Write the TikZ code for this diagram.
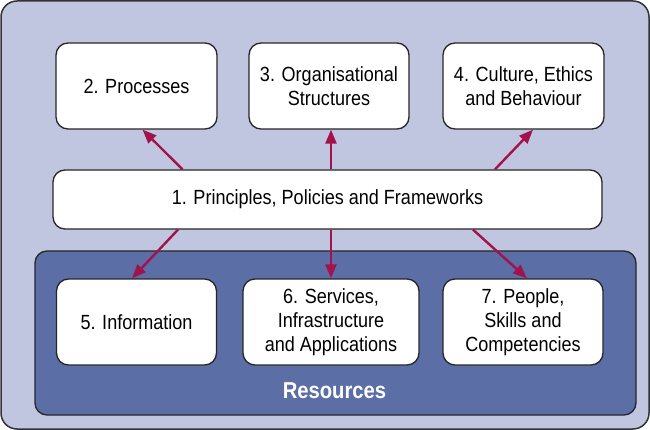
\documentclass[tikz,border=0pt]{standalone}
\usepackage{fontspec}
\setmainfont{Liberation Sans}[FakeStretch=0.88]
\usetikzlibrary{positioning}
\usetikzlibrary{arrows.meta}
\definecolor{frameblue}{HTML}{C1C6E0}
\definecolor{resblue}{HTML}{5B6EA5}
\definecolor{linkred}{HTML}{A3124C}
\tikzset{
    panel/.style = {rectangle, rounded corners=12pt, line width=1.3pt, draw=black!85, fill=white, align=center, font=\fontsize{20.5}{24}\selectfont, inner sep=2pt, minimum height=86pt},
    bigpanel/.style = {panel, minimum height=59pt},
    link/.style = {-{Triangle[length=14pt,width=11pt]}, line width=2.4pt, draw=linkred},
    reslabel/.style = {text=white, font=\bfseries\fontsize{23}{26}\selectfont}
}
\begin{document}
\begin{tikzpicture}[x=1pt,y=-1pt]
\useasboundingbox (0,0) rectangle (650,430);
%
\path[fill=frameblue, draw=black!80, line width=1.5pt, rounded corners=16pt] (1,1) rectangle (649,429);
\path[fill=resblue, draw=black!85, line width=1.3pt, rounded corners=12pt] (35,251) rectangle (636,415);
%
\node[panel, minimum width=161pt] at (136.5, 86) (proc) {2. Processes};
\node[panel, minimum width=160pt] at (329, 86) (org) {3. Organisational\\Structures};
\node[panel, minimum width=161pt] at (523.5, 86) (cult) {4. Culture, Ethics\\and Behaviour};
\node[bigpanel, minimum width=549pt] at (327.5, 199.5) (ppf) {1. Principles, Policies and Frameworks};
\node[panel, minimum width=160pt] at (136.5, 322) (info) {5. Information};
\node[panel, minimum width=176pt] at (331, 322) (serv) {6. Services,\\Infrastructure\\and Applications};
\node[panel, minimum width=160pt] at (523, 322) (people) {7. People,\\Skills and\\Competencies};
\node[reslabel] at (334.5, 391) (res) {Resources};
%
\draw[link] ([xshift=-145pt]ppf.north) -- ([xshift=6pt]proc.south);
\draw[link] ([xshift=3.5pt]ppf.north) -- ([xshift=2pt]org.south);
\draw[link] ([xshift=167.5pt]ppf.north) -- ([xshift=9.5pt]cult.south);
\draw[link] ([xshift=-149.5pt]ppf.south) -- ([xshift=-4.5pt]info.north);
\draw[link] ([xshift=3.5pt]ppf.south) -- (serv.north);
\draw[link] ([xshift=145.5pt]ppf.south) -- ([xshift=4pt]people.north);

\end{tikzpicture}
\end{document}
